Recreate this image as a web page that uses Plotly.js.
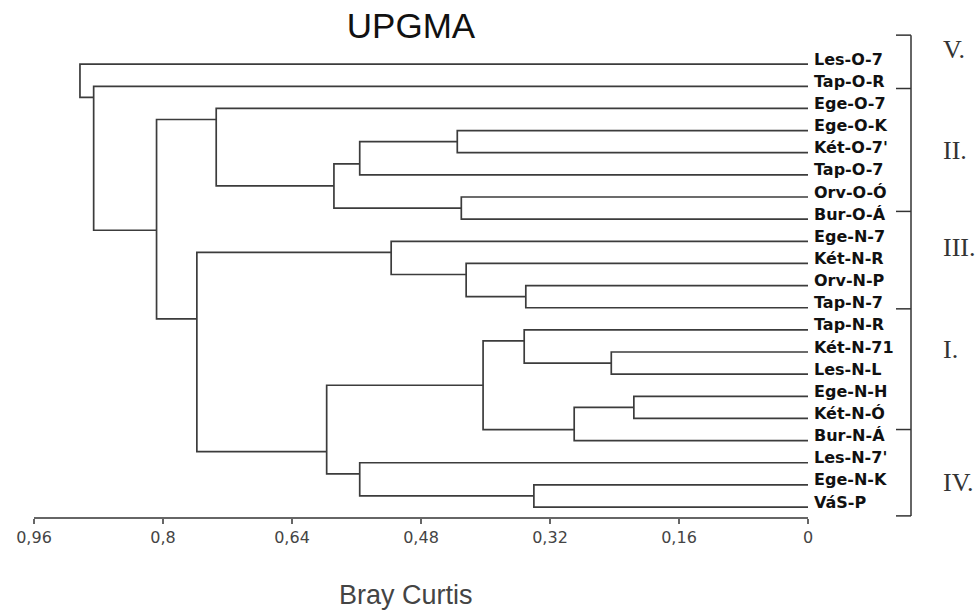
<!DOCTYPE html>
<html>
<head>
<meta charset="utf-8">
<script src="https://cdn.plot.ly/plotly-3.0.1.min.js"></script>
<style>html,body{margin:0;padding:0;background:#fff;}#chart{width:977px;height:612px;}</style>
</head>
<body>
<div id="chart"></div>
<script>
// ---- data ----
const leaves = ["Les-O-7","Tap-O-R","Ege-O-7","Ege-O-K","Két-O-7'","Tap-O-7","Orv-O-Ó","Bur-O-Á",
  "Ege-N-7","Két-N-R","Orv-N-P","Tap-N-7","Tap-N-R","Két-N-71","Les-N-L","Ege-N-H","Két-N-Ó",
  "Bur-N-Á","Les-N-7'","Ege-N-K","VáS-P"];
// merges: children are leaf indices (0-20) or node ids (21 + merge index)
const mergeA = [15,13,21,19,10,12,26,9,6,3,8,30,18,32,27,2,31,36,1,0];
const mergeB = [16,14,17,20,11,22,23,25,7,4,28,5,24,29,33,34,35,37,38,39];
const mergeHeight = [0.216,0.244,0.290,0.340,0.350,0.352,0.403,0.424,0.430,0.435,
  0.517,0.556,0.556,0.588,0.597,0.734,0.758,0.808,0.886,0.903];
const tickVals = [0.96,0.8,0.64,0.48,0.32,0.16,0];
const tickText = ["0,96","0,8","0,64","0,48","0,32","0,16","0"];
const groupNames = ["V.","II.","III.","I.","IV."];

// ---- layout helpers (positions in leaf units) ----
const bracketTicks = [-1.31, 1.1, 6.65, 11.05, 16.5, 20.4];
const groupLabelY = [-0.64, 3.88, 8.3, 12.9, 18.9];
const yRange = [20.45, -1];
const toPaperY = v => (yRange[0] - v) / (yRange[0] - yRange[1]);
const plotL = 34, plotW = 774;
const toPaperX = px => (px - plotL) / plotW;

// ---- compute dendrogram geometry ----
const n = leaves.length;
const first = [], last = [], ypos = [], hgt = [];
for (let i = 0; i < n; i++) { first[i] = i; last[i] = i; ypos[i] = i; hgt[i] = 0; }
const xs = [], ys = [];
for (let k = 0; k < mergeA.length; k++) {
  const id = n + k, a = mergeA[k], b = mergeB[k], h = mergeHeight[k];
  first[id] = first[a]; last[id] = last[b];
  ypos[id] = (last[a] + first[b]) / 2; hgt[id] = h;
  xs.push(hgt[a], h, h, hgt[b], null);
  ys.push(ypos[a], ypos[a], ypos[b], ypos[b], null);
}

const annotations = leaves.map((t, i) => ({
  x: 0, y: i, xref: 'x', yref: 'y', text: t, showarrow: false,
  xanchor: 'left', yanchor: 'middle', xshift: 4, yshift: 5,
  font: {family: 'DejaVu Sans', size: 16, color: '#111', weight: 'bold'}
}));
groupNames.forEach((g, i) => annotations.push({
  x: toPaperX(941), y: toPaperY(groupLabelY[i]), xref: 'paper', yref: 'paper',
  text: g, showarrow: false, xanchor: 'left', yanchor: 'middle',
  font: {family: 'Liberation Serif', size: 26, color: '#333'}
}));
annotations.push({
  x: toPaperX(406), y: 0, xref: 'paper', yref: 'paper', yshift: -78,
  text: 'Bray Curtis', showarrow: false, xanchor: 'center', yanchor: 'middle',
  font: {family: 'Liberation Sans', size: 27, color: '#444'}
});

const shapes = [];
const bx = toPaperX(911), bl = toPaperX(896);
shapes.push({type: 'line', xref: 'paper', yref: 'paper', x0: bx, x1: bx,
  y0: toPaperY(bracketTicks[0]), y1: toPaperY(bracketTicks[bracketTicks.length - 1]),
  line: {color: '#333', width: 1.5}});
bracketTicks.forEach(v => shapes.push({type: 'line', xref: 'paper', yref: 'paper',
  x0: bl, x1: bx, y0: toPaperY(v), y1: toPaperY(v), line: {color: '#333', width: 1.5}}));

const trace = {x: xs, y: ys, mode: 'lines', type: 'scatter', hoverinfo: 'skip',
  line: {color: '#3c3c3c', width: 1.7}, cliponaxis: false, showlegend: false};

const layout = {
  width: 977, height: 612,
  margin: {l: plotL, r: 977 - plotL - plotW, t: 42, b: 95, pad: 0},
  paper_bgcolor: '#fff', plot_bgcolor: '#fff',
  separators: ',.',
  title: {text: 'UPGMA', x: 411 / 977, xref: 'container', xanchor: 'center',
    y: 1 - 26 / 612, yref: 'container', yanchor: 'middle',
    font: {family: 'Liberation Sans', size: 35, color: '#111'}},
  xaxis: {range: [0.96, 0], tickvals: tickVals, ticktext: tickText,
    showgrid: false, zeroline: false, showline: true, linecolor: '#666', linewidth: 2,
    ticks: 'outside', ticklen: 5, tickcolor: '#666', tickwidth: 1.5,
    tickfont: {family: 'DejaVu Sans', size: 16, color: '#444'}, fixedrange: true},
  yaxis: {range: yRange, showgrid: false, zeroline: false, showline: false,
    showticklabels: false, ticks: '', fixedrange: true},
  annotations: annotations, shapes: shapes
};
Plotly.newPlot('chart', [trace], layout, {displayModeBar: false, staticPlot: true});
</script>
</body>
</html>
